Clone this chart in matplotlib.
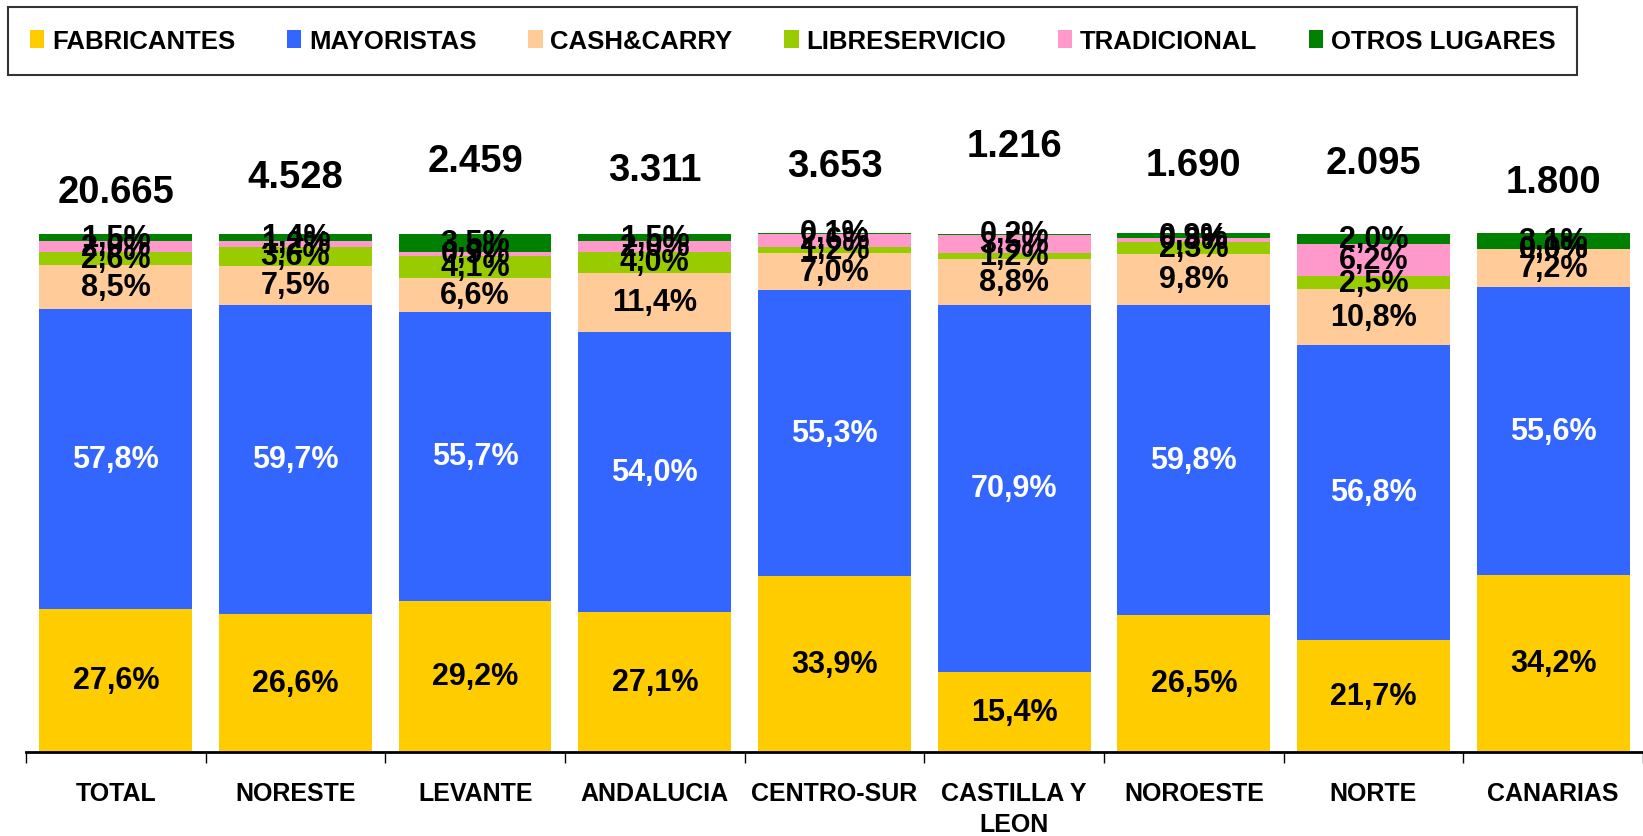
import matplotlib.pyplot as plt
import numpy as np

plt.rcParams['font.family'] = ['Liberation Sans', 'DejaVu Sans']
plt.rcParams['font.weight'] = 'bold'

regiones = ['TOTAL', 'NORESTE', 'LEVANTE', 'ANDALUCIA', 'CENTRO-SUR',
            'CASTILLA Y\nLEON', 'NOROESTE', 'NORTE', 'CANARIAS']
totales = [20665, 4528, 2459, 3311, 3653, 1216, 1690, 2095, 1800]

canales = ['FABRICANTES', 'MAYORISTAS', 'CASH&CARRY', 'LIBRESERVICIO',
           'TRADICIONAL', 'OTROS LUGARES']
fabricantes = [27.6, 26.6, 29.2, 27.1, 33.9, 15.4, 26.5, 21.7, 34.2]
mayoristas = [57.8, 59.7, 55.7, 54.0, 55.3, 70.9, 59.8, 56.8, 55.6]
cash_carry = [8.5, 7.5, 6.6, 11.4, 7.0, 8.8, 9.8, 10.8, 7.2]
libreservicio = [2.6, 3.6, 4.1, 4.0, 1.2, 1.2, 2.3, 2.5, 0.0]
tradicional = [2.0, 1.2, 0.9, 2.0, 2.6, 3.5, 0.8, 6.2, 0.0]
otros = [1.5, 1.4, 3.5, 1.5, 0.1, 0.2, 0.9, 2.0, 3.1]

colores = ['#FFCC00', '#3366FF', '#FFCC99', '#99CC00', '#FF99CC', '#008000']
color_texto = ['black', 'white', 'black', 'black', 'black', 'black']

# altura de las etiquetas de total sobre cada barra (en % del eje)
y_totales = [108, 111, 114, 112.3, 113, 117, 113.3, 113.7, 110]

series = [fabricantes, mayoristas, cash_carry, libreservicio, tradicional, otros]

fig = plt.figure(figsize=(16.43, 8.37), dpi=100)
ax = fig.add_axes([0.0158, 0.1004, 0.9842, 0.774])

x = np.arange(len(regiones))
base = np.zeros(len(regiones))
for nombre, valores, color, ctext in zip(canales, series, colores, color_texto):
    valores = np.array(valores)
    ax.bar(x, valores, 0.85, bottom=base, color=color, label=nombre)
    for xi, b, v in zip(x, base, valores):
        ax.text(xi, b + v / 2, f'{v:.1f}%'.replace('.', ','), ha='center',
                va='center', fontsize=22, fontweight='bold', color=ctext)
    base += valores

for xi, t, yt in zip(x, totales, y_totales):
    ax.text(xi, yt, f'{t:,}'.replace(',', '.'), ha='center', va='center',
            fontsize=27.5, fontweight='bold', color='black')

ax.set_xlim(-0.5, 8.5)
ax.set_ylim(0, 125)
ax.set_yticks([])
for lado in ['top', 'right', 'left']:
    ax.spines[lado].set_visible(False)
ax.spines['bottom'].set_linewidth(2)

ax.set_xticks(x)
ax.set_xticklabels(regiones, fontsize=18, fontweight='bold', linespacing=1.35)
ax.tick_params(axis='x', which='major', length=0, pad=21)
ax.set_xticks(np.arange(-0.5, 9.0, 1.0), minor=True)
ax.tick_params(axis='x', which='minor', length=8, width=1, direction='out')

leg = fig.legend(loc='upper left', bbox_to_anchor=(0.005, 0.99, 0.955, 0.0),
                 mode='expand', ncol=6, fontsize=18.5, frameon=True,
                 fancybox=False, handlelength=0.56, handleheight=0.72,
                 handletextpad=0.3, borderpad=0.85, borderaxespad=0)
leg.get_frame().set_edgecolor('black')
leg.get_frame().set_linewidth(1.5)
for t in leg.get_texts():
    t.set_fontweight('bold')

fig.savefig('out.png', dpi=100)
